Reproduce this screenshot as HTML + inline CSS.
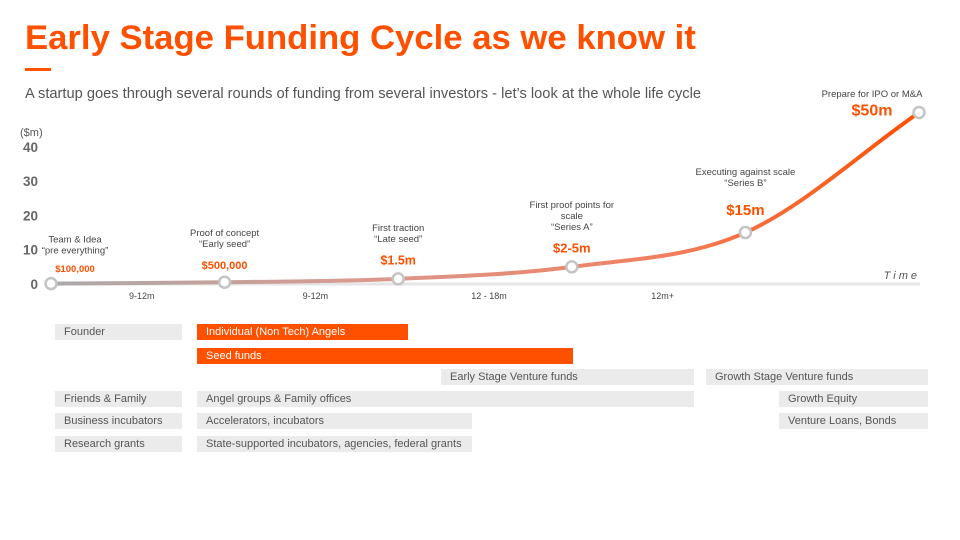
<!DOCTYPE html>
<html><head><meta charset="utf-8"><style>
body{margin:0;width:960px;height:540px;background:#fff;font-family:"Liberation Sans",sans-serif;position:relative;overflow:hidden}
.t{position:absolute;white-space:nowrap}
.bar{position:absolute;height:16px;font-size:11px;line-height:17px;padding-left:9px;box-sizing:border-box;color:#555;background:#ebebeb}
.o{background:#ff5000;color:#fff}
</style></head><body>
<div class="t" style="left:25px;top:19px;font-size:34.7px;font-weight:bold;color:#ff5000">Early Stage Funding Cycle as we know it</div>
<div style="position:absolute;left:25px;top:68px;width:26px;height:3px;background:#ff5000"></div>
<div class="t" style="left:25px;top:86px;font-size:14.65px;color:#555">A startup goes through several rounds of funding from several investors - let’s look at the whole life cycle</div>
<svg id="chart" width="960" height="320" style="position:absolute;left:0;top:0">
<defs><linearGradient id="g" x1="51" x2="919" y1="0" y2="0" gradientUnits="userSpaceOnUse">
<stop offset="0" stop-color="#aaa"/><stop offset="0.35" stop-color="#d99a90"/><stop offset="0.7" stop-color="#f08060"/><stop offset="1" stop-color="#ff5000"/></linearGradient></defs>
</svg>
<div class="bar" style="left:55px;top:324px;width:127px">Founder</div>
<div class="bar o" style="left:197px;top:324px;width:211px">Individual (Non Tech) Angels</div>
<div class="bar o" style="left:197px;top:348px;width:376px">Seed funds</div>
<div class="bar" style="left:441px;top:369px;width:253px">Early Stage Venture funds</div>
<div class="bar" style="left:706px;top:369px;width:222px">Growth Stage Venture funds</div>
<div class="bar" style="left:55px;top:391px;width:127px">Friends &amp; Family</div>
<div class="bar" style="left:197px;top:391px;width:497px">Angel groups &amp; Family offices</div>
<div class="bar" style="left:779px;top:391px;width:149px">Growth Equity</div>
<div class="bar" style="left:55px;top:413px;width:127px">Business incubators</div>
<div class="bar" style="left:197px;top:413px;width:275px">Accelerators, incubators</div>
<div class="bar" style="left:779px;top:413px;width:149px">Venture Loans, Bonds</div>
<div class="bar" style="left:55px;top:436px;width:127px">Research grants</div>
<div class="bar" style="left:197px;top:436px;width:275px">State-supported incubators, agencies, federal grants</div>
<script>
const stages=[0,1,2,3,4,5];
const values=[0.1,0.5,1.5,5,15,50];
const amounts=["$100,000","$500,000","$1.5m","$2-5m","$15m","$50m"];
const descriptions=[["Team & Idea","“pre everything”"],["Proof of concept","“Early seed”"],["First traction","“Late seed”"],["First proof points for","scale","“Series A”"],["Executing against scale","“Series B”"],["Prepare for IPO or M&A"]];
const durations=["9-12m","9-12m","12 - 18m","12m+"];
const yTicks=[0,10,20,30,40];
const svg=document.getElementById('chart');const NS='http://www.w3.org/2000/svg';
const X=i=>51+i*173.6, Y=v=>284-v*3.43;
function mk(tag,attrs,txt){const e=document.createElementNS(NS,tag);for(const k in attrs)e.setAttribute(k,attrs[k]);if(txt!=null)e.textContent=txt;svg.appendChild(e);return e;}
const base=mk('line',{x1:51,x2:920,y1:284,y2:284,stroke:'#e6e6e6','stroke-width':3});


const yl=mk('text',{x:20,y:136,'font-size':11,fill:'#555'},'($m)');


yTicks.forEach(v=>{const t=mk('text',{x:38,y:Y(v)+5,'font-size':13.5,'font-weight':'bold',fill:'#666','text-anchor':'end'},v);

});
const tt=mk('text',{x:920,y:279,'font-size':11,'font-style':'italic',fill:'#555','text-anchor':'end','letter-spacing':'3'},'Time');


const px=stages.map(X),py=values.map(Y);const n=px.length;const d=[],m=[];
for(let i=0;i<n-1;i++)d.push((py[i+1]-py[i])/(px[i+1]-px[i]));
m[0]=d[0];m[n-1]=d[n-2];for(let i=1;i<n-1;i++)m[i]=d[i-1]*d[i]<=0?0:(d[i-1]+d[i])/2;
let p=`M${px[0]},${py[0]}`;for(let i=0;i<n-1;i++){const h=(px[i+1]-px[i])/3;p+=` C${px[i]+h},${py[i]+m[i]*h} ${px[i+1]-h},${py[i+1]-m[i+1]*h} ${px[i+1]},${py[i+1]}`;}
const line=mk('path',{d:p,fill:'none',stroke:'url(#g)','stroke-width':4});


durations.forEach((s,i)=>{const t=mk('text',{x:(X(i)+X(i+1))/2+4,y:299,'font-size':9,fill:'#444','text-anchor':'middle'},s);

});
const fsz=[9.5,11,12.5,13,15,16];
stages.forEach(i=>{const x=X(i),y=Y(values[i]);
const c=mk('circle',{cx:x,cy:y,r:5.5,fill:'#fff',stroke:'#c4c4c4','stroke-width':2.5});


const fs=fsz[i];
let ax=x, ay=y-10-fs*0.5+(i<4?2:0);
if(i===0){ax=x+24;ay+=1;}
if(i===5){ax=x-47;ay=y+3;}
const a=mk('text',{x:ax,y:ay,'font-size':fs,'font-weight':'bold',fill:'#ff5000','text-anchor':'middle'},amounts[i]);


const lines=descriptions[i];
const gap=i===5?13:i===4?24:i===0?15:18;
const lastBase=ay-fs*0.35-gap;
lines.forEach((l,k)=>{const t=mk('text',{x:ax,y:lastBase-(lines.length-1-k)*11,'font-size':9.5,fill:'#444','text-anchor':'middle'},l);

});
});
</script>
</body></html>
